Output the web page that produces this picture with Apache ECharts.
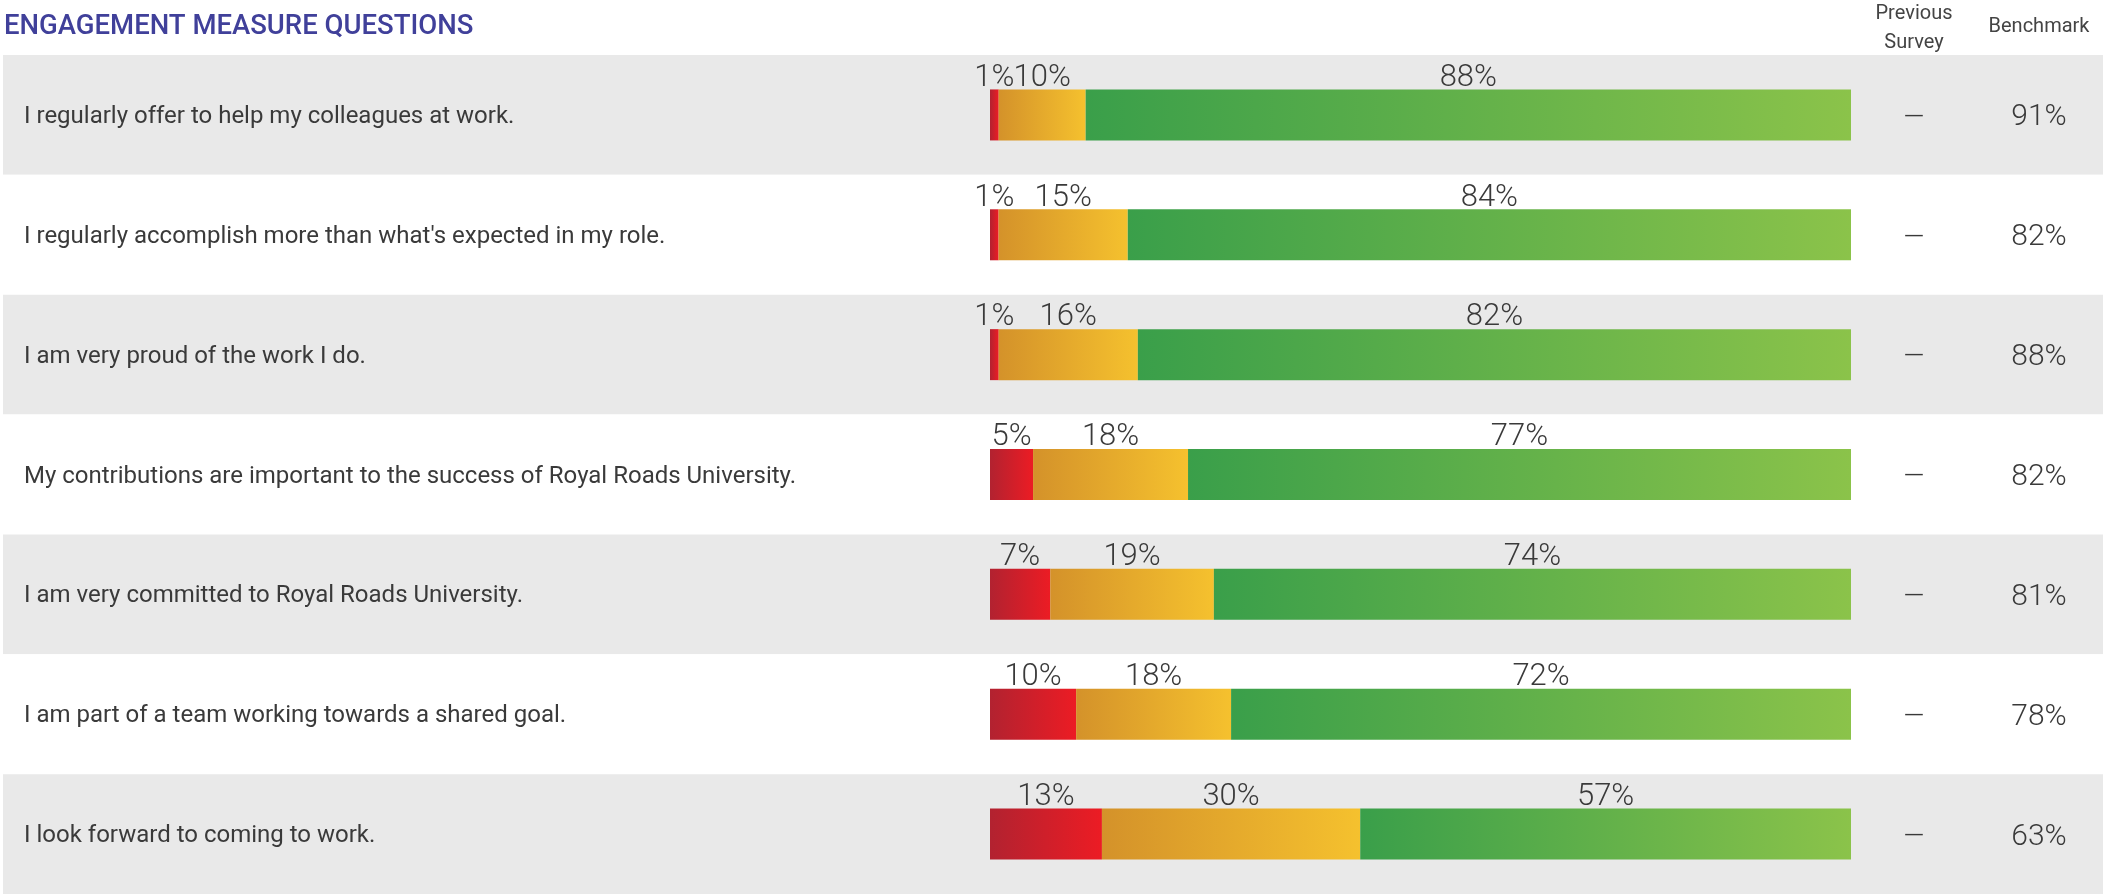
<!DOCTYPE html>
<html>
<head>
<meta charset="utf-8">
<title>Engagement Measure Questions</title>
<script src="https://cdn.jsdelivr.net/npm/echarts@6/dist/echarts.min.js"></script>
<style>
  html, body { margin: 0; padding: 0; background: #ffffff; }
  #chart { width: 2103px; height: 894px; }
</style>
</head>
<body>
<div id="chart"></div>
<script>
// Survey questions, top to bottom
const questions = [
  'I regularly offer to help my colleagues at work.',
  "I regularly accomplish more than what's expected in my role.",
  'I am very proud of the work I do.',
  'My contributions are important to the success of Royal Roads University.',
  'I am very committed to Royal Roads University.',
  'I am part of a team working towards a shared goal.',
  'I look forward to coming to work.'
];

// Response distribution (%), per question
const unfavourable = [1, 1, 1, 5, 7, 10, 13];
const neutral      = [10, 15, 16, 18, 19, 18, 30];
const favourable   = [88, 84, 82, 77, 74, 72, 57];

// Comparison columns (no previous survey results available)
const previousSurvey = [null, null, null, null, null, null, null];
const benchmark      = [91, 82, 88, 82, 81, 78, 63];

// Each bar fills the full row: share of the row's reported total
const totals = questions.map((_, i) => unfavourable[i] + neutral[i] + favourable[i]);
const share = arr => arr.map((v, i) => v / totals[i] * 100);

const FONT = 'Roboto, "Noto Sans", sans-serif';
const TEXT = '#3a3a3a';

function hGradient(from, to) {
  return {
    type: 'linear', x: 0, y: 0, x2: 1, y2: 0,
    colorStops: [{ offset: 0, color: from }, { offset: 1, color: to }]
  };
}

function segment(name, raw, from, to) {
  return {
    name: name,
    type: 'bar',
    stack: 'responses',
    xAxisIndex: 1,
    yAxisIndex: 1,
    barWidth: 51,
    data: share(raw),
    itemStyle: { color: hGradient(from, to) },
    label: {
      show: true,
      position: 'top',
      distance: -4,
      formatter: p => raw[p.dataIndex] + '%',
      fontFamily: FONT,
      fontWeight: 300,
      fontSize: 31,
      color: TEXT
    },
    emphasis: { disabled: true },
    silent: true
  };
}

const hiddenAxisParts = {
  axisLine: { show: false },
  axisTick: { show: false },
  splitLine: { show: false }
};

// Column text sits a few pixels below the row centre: a top-anchored
// label whose line box is 2*shift tall has its glyphs centred at +shift.
function lowered(shift) {
  return { verticalAlign: 'top', lineHeight: shift * 2 };
}

const chart = echarts.init(document.getElementById('chart'), null, { renderer: 'canvas' });

chart.setOption({
  animation: false,
  backgroundColor: '#ffffff',
  grid: [
    { left: 3, right: 0, top: 55, height: 840 },
    { left: 990, width: 861, top: 55, height: 840 }
  ],
  xAxis: [
    { gridIndex: 0, type: 'value', min: 0, max: 1, show: false },
    { gridIndex: 1, type: 'value', min: 0, max: 100, show: false }
  ],
  yAxis: [
    // Row bands with question text
    Object.assign({
      gridIndex: 0,
      type: 'category',
      data: questions,
      inverse: true,
      splitArea: { show: true, areaStyle: { color: ['#e9e9e9', '#ffffff'] } },
      axisLabel: Object.assign({
        inside: true,
        interval: 0,
        margin: 21,
        align: 'left',
        fontFamily: FONT,
        fontSize: 24,
        color: TEXT
      }, lowered(2))
    }, hiddenAxisParts),
    // Axis for the stacked bars
    Object.assign({
      gridIndex: 1,
      type: 'category',
      data: questions,
      inverse: true,
      axisLabel: { show: false }
    }, hiddenAxisParts),
    // Previous survey column
    Object.assign({
      gridIndex: 1,
      type: 'category',
      data: questions,
      inverse: true,
      position: 'right',
      axisLabel: Object.assign({
        interval: 0,
        margin: 63,
        align: 'center',
        formatter: (v, i) => previousSurvey[i] == null ? '—' : previousSurvey[i] + '%',
        fontFamily: FONT,
        fontWeight: 300,
        fontSize: 27,
        color: TEXT
      }, lowered(4))
    }, hiddenAxisParts),
    // Benchmark column
    Object.assign({
      gridIndex: 1,
      type: 'category',
      data: questions,
      inverse: true,
      position: 'right',
      axisLabel: Object.assign({
        interval: 0,
        margin: 188,
        align: 'center',
        formatter: (v, i) => benchmark[i] + '%',
        fontFamily: FONT,
        fontWeight: 300,
        fontSize: 30,
        color: TEXT
      }, lowered(3))
    }, hiddenAxisParts)
  ],
  series: [
    segment('Unfavourable', unfavourable, '#b22230', '#ec1c24'),
    segment('Neutral', neutral, '#d4922a', '#f5c12e'),
    segment('Favourable', favourable, '#3a9f4a', '#8bc34a')
  ],
  graphic: [
    {
      type: 'text', left: 4, top: 13,
      style: { text: 'ENGAGEMENT MEASURE QUESTIONS', fontFamily: FONT, fontWeight: 500, fontSize: 27.5, fill: '#40409a' }
    },
    {
      type: 'text', x: 1914, y: 28,
      style: {
        text: 'Previous\nSurvey', align: 'center', verticalAlign: 'middle',
        fontFamily: FONT, fontSize: 20, lineHeight: 29, fill: '#444444'
      }
    },
    {
      type: 'text', x: 2039, y: 27,
      style: {
        text: 'Benchmark', align: 'center', verticalAlign: 'middle',
        fontFamily: FONT, fontSize: 20, fill: '#444444'
      }
    }
  ]
});
</script>
</body>
</html>
